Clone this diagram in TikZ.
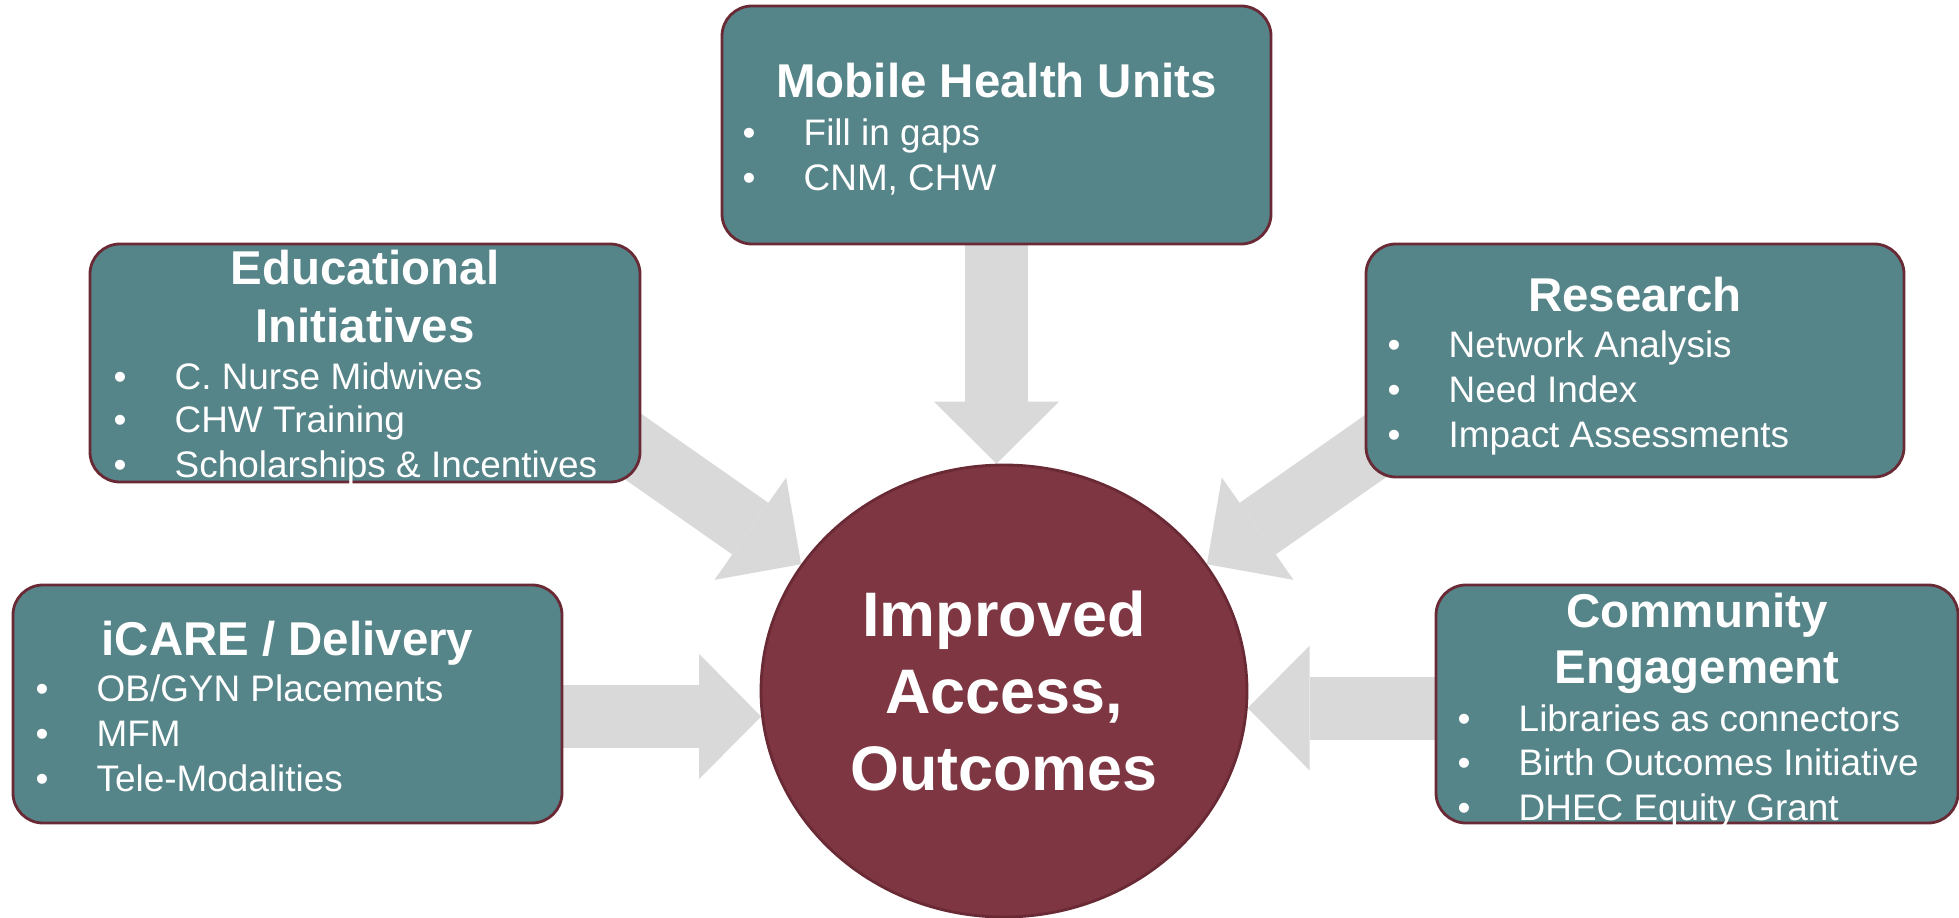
\documentclass[tikz,border=0pt]{standalone}
\usepackage{fontspec}
\setmainfont{Liberation Sans}
\usepackage{tikz}
\usetikzlibrary{positioning, arrows.meta, calc, shapes.geometric, backgrounds}

\definecolor{topicfill}{HTML}{558489}
\definecolor{topicline}{HTML}{6A2A35}
\definecolor{hubfill}{HTML}{7D3642}
\definecolor{spokegray}{HTML}{D9D9D9}

\def\raster{0.1mm}

\tikzset{
    topic/.style={rectangle, rounded corners=3mm, draw=topicline, line width=0.8pt, fill=topicfill, inner sep=0pt},
    hub/.style={ellipse, draw=topicline, line width=0.8pt, fill=hubfill, inner sep=0pt, text=white, align=center, font=\fontsize{17.9}{21.9}\selectfont\bfseries},
    spoke/.style={draw=spokegray, line width=6.3mm, -{Triangle[width=12.5mm, length=6.2mm, line width=0pt]}},
    heading/.style={anchor=base, text=white, inner sep=0pt, font=\fontsize{13.5}{16.5}\selectfont\bfseries},
    item/.style={anchor=base west, text=white, inner sep=0pt, font=\fontsize{10.5}{12.6}\selectfont},
    dot/.style={anchor=base, text=white, inner sep=0pt, font=\fontsize{10.5}{12.6}\selectfont}
}

\begin{document}
\begin{tikzpicture}[x=\raster, y=-\raster]
    \useasboundingbox (0,0) rectangle (1959,918);

    % topic boxes
    \node[topic, minimum width=549*\raster, minimum height=238*\raster] (mob) at (996.5,125) {};
    \node[topic, minimum width=550*\raster, minimum height=238*\raster] (edu) at (365,363) {};
    \node[topic, minimum width=538*\raster, minimum height=233*\raster] (res) at (1635,360.5) {};
    \node[topic, minimum width=549*\raster, minimum height=238*\raster] (ica) at (287.5,704) {};
    \node[topic, minimum width=522*\raster, minimum height=238*\raster] (com) at (1697,704) {};

    % centre
    \node[hub, minimum width=486*\raster, minimum height=452*\raster] (hub) at (1004,691) {Improved\\Access,\\Outcomes};

    % big arrows, behind the boxes
    \begin{scope}[on background layer]
        \draw[spoke] (mob.center) -- (mob.center |- hub.92);
        \draw[spoke] ($(hub.148)+(145:40mm)$) -- (hub.148);
        \draw[spoke] ($(hub.32)+(35:40mm)$) -- (hub.32);
        \draw[spoke] (ica.center |- hub.186) -- (hub.186);
        \draw[spoke] (com.center |- hub.356) -- (hub.356);
    \end{scope}

    % headings
    \foreach \x/\y/\txt [count=\i] in {
        996.5/98/Mobile Health Units,
        365/285/Educational,
        365/343/Initiatives,
        1635/312/Research,
        287.5/655/{iCARE / Delivery},
        1697/627/Community,
        1697/683/Engagement}{
        \node[heading] (head\i) at (\x,\y) {\txt};
    }

    % bullet lists
    \foreach \x/\y/\txt [count=\i] in {
        749/146/Fill in gaps,
        749/191/{CNM, CHW},
        120/390/C. Nurse Midwives,
        120/433/CHW Training,
        120/478/Scholarships \& Incentives,
        1394/358/Network Analysis,
        1394/403/Need Index,
        1394/448/Impact Assessments,
        42/701/{OB/GYN Placements},
        42/746/MFM,
        42/791/Tele-Modalities,
        1464/731/Libraries as connectors,
        1464/775/Birth Outcomes Initiative,
        1464/820/DHEC Equity Grant}{
        \node[dot] (dot\i) at (\x,\y) {\textbullet};
        \node[item] (item\i) at (\x+54,\y) {\txt};
    }
\end{tikzpicture}
\end{document}
